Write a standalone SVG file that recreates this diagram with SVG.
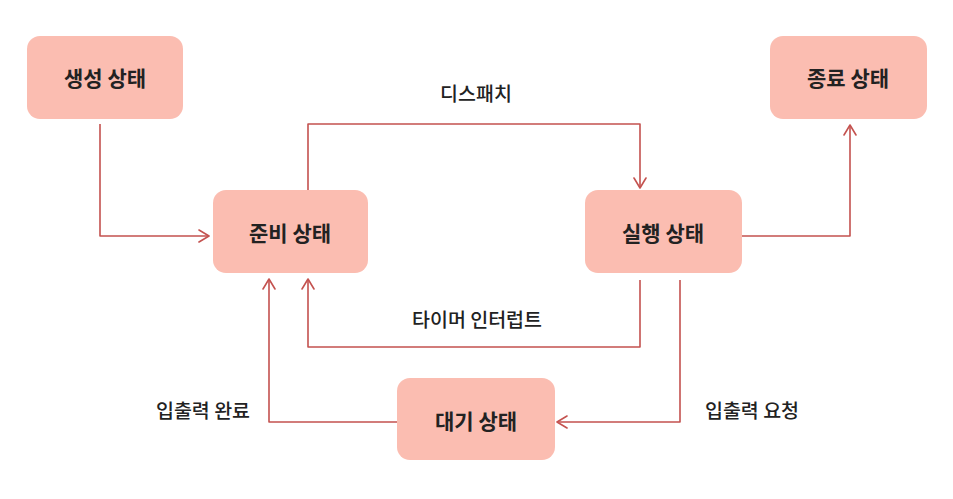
<svg xmlns="http://www.w3.org/2000/svg" width="953" height="499" viewBox="0 0 953 499">
<defs>
<style>
.box{fill:#fbbdb1;}
.nt{font-family:"Noto Sans CJK KR","Noto Sans",sans-serif;font-size:21px;font-weight:bold;fill:#222;text-anchor:middle;}
.lt{font-family:"Noto Sans CJK KR","Noto Sans",sans-serif;font-size:19.5px;font-weight:500;fill:#222;text-anchor:middle;}
.ln{fill:none;stroke:#c4524f;stroke-width:1.6;stroke-linejoin:round;marker-end:url(#ah);}
</style>
<marker id="ah" viewBox="0 0 14 14" refX="13" refY="7" markerWidth="14" markerHeight="14" markerUnits="userSpaceOnUse" orient="auto">
<path d="M3,1 L13,7 L3,13" fill="none" stroke="#c4524f" stroke-width="1.6" stroke-linecap="round" stroke-linejoin="round"/>
</marker>
</defs>
<rect width="953" height="499" fill="#ffffff"/>
<g id="connectors">
<path class="ln" d="M100,124 L100,236 L209,236"/>
<path class="ln" d="M308,190 L308,124 L640,124 L640,188"/>
<path class="ln" d="M742,236 L850,236 L850,125"/>
<path class="ln" d="M640,280 L640,347 L308,347 L308,279"/>
<path class="ln" d="M680,280 L680,422 L557,422"/>
<path class="ln" d="M397,422 L269,422 L269,279"/>
<text class="lt" x="476" y="101">디스패치</text>
<text class="lt" x="477" y="327">타이머 인터럽트</text>
<text class="lt" x="203" y="418">입출력 완료</text>
<text class="lt" x="752" y="418">입출력 요청</text>
</g>
<g id="node-create"><rect class="box" x="27" y="36" width="156" height="83" rx="13"/><text class="nt" x="105" y="86">생성 상태</text></g>
<g id="node-exit"><rect class="box" x="770" y="36" width="157" height="83" rx="13"/><text class="nt" x="848" y="86">종료 상태</text></g>
<g id="node-ready"><rect class="box" x="213" y="190" width="155" height="83" rx="13"/><text class="nt" x="290" y="241">준비 상태</text></g>
<g id="node-running"><rect class="box" x="585" y="190" width="157" height="83" rx="13"/><text class="nt" x="663" y="241">실행 상태</text></g>
<g id="node-wait"><rect class="box" x="397" y="378" width="158" height="82" rx="13"/><text class="nt" x="476" y="429">대기 상태</text></g>
</svg>
